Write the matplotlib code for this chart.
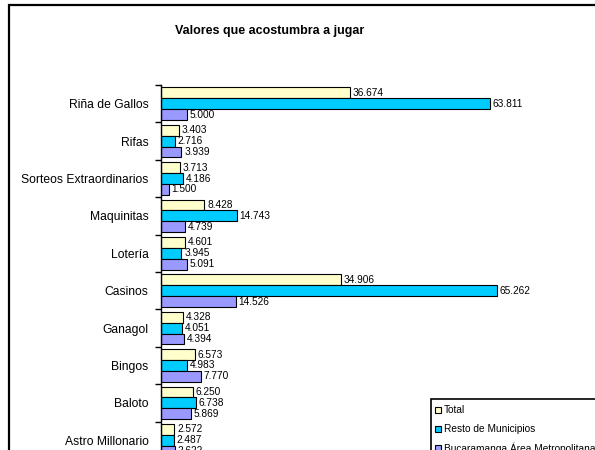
import matplotlib
matplotlib.use("Agg")
import matplotlib.pyplot as plt
from matplotlib.patches import Rectangle
import numpy as np

categories = ["Riña de Gallos", "Rifas", "Sorteos Extraordinarios", "Maquinitas", "Lotería",
              "Casinos", "Ganagol", "Bingos", "Baloto", "Astro Millonario"]
total = [36.674, 3.403, 3.713, 8.428, 4.601, 34.906, 4.328, 6.573, 6.250, 2.572]
resto = [63.811, 2.716, 4.186, 14.743, 3.945, 65.262, 4.051, 4.983, 6.738, 2.487]
bucaramanga = [5.000, 3.939, 1.500, 4.739, 5.091, 14.526, 4.394, 7.770, 5.869, 2.622]
series_names = ["Total", "Resto de Municipios", "Bucaramanga Área Metropolitana"]
colors = ["#FFFFCC", "#00CCFF", "#9999FF"]
title = "Valores que acostumbra a jugar"

plt.rcParams['font.family'] = ['Liberation Sans', 'DejaVu Sans']

W, H = 595, 450
fig = plt.figure(figsize=(W / 100, H / 100), dpi=100)

def fx(px):
    return px / W

def fy(py):
    return 1 - py / H

# outer chart border (extends past the cropped figure)
fig.patches.append(Rectangle((fx(9), fy(470)), fx(620) - fx(9), fy(5) - fy(470),
                             transform=fig.transFigure, fill=False, edgecolor="black",
                             linewidth=1.6, zorder=0))

ax_left, ax_top = 161, 85
group_px = 37.4
n = len(categories)
ax_right = 560
scale = 5.15  # px per unit
ax = fig.add_axes([fx(ax_left), fy(ax_top + n * group_px), fx(ax_right - ax_left),
                   (n * group_px) / H])
ax.set_xlim(0, (ax_right - ax_left) / scale)
ax.set_ylim(n - 0.5, -0.5)

y = np.arange(n)
h = 0.29
for k, (vals, col) in enumerate(zip([total, resto, bucaramanga], colors)):
    pos = y + (k - 1) * h
    ax.barh(pos, vals, height=h, color=col, edgecolor="black", linewidth=0.8)
    for p, v in zip(pos, vals):
        ax.annotate(f"{v:.3f}", (v, p), xytext=(2, 0), textcoords="offset points",
                    va="center", ha="left", fontsize=7.3)

for s in ["top", "right", "bottom"]:
    ax.spines[s].set_visible(False)
ax.spines["left"].set_linewidth(1.0)
ax.set_xticks([])
ax.set_yticks(y)
ax.set_yticklabels(categories, fontsize=8.7)
ax.tick_params(axis="y", which="major", length=0, pad=9)
ax.set_yticks(np.arange(-0.5, n + 0.5, 1), minor=True)
ax.tick_params(axis="y", which="minor", length=4, width=1.0, direction="out")

fig.text(fx(270), fy(31), title, ha="center", va="center", fontsize=9, fontweight="bold")

# legend
lx, ly = 431, 399
fig.patches.append(Rectangle((fx(lx), fy(470)), fx(620) - fx(lx), fy(ly) - fy(470),
                             transform=fig.transFigure, facecolor="white", edgecolor="black",
                             linewidth=1.2, zorder=5))
for i, (name, col) in enumerate(zip(series_names, colors)):
    yy = 410 + i * 19
    fig.patches.append(Rectangle((fx(435), fy(yy + 3)), fx(6), 6 / H,
                                 transform=fig.transFigure, facecolor=col,
                                 edgecolor="black", linewidth=0.8, zorder=6))
    fig.text(fx(444), fy(yy), name, ha="left", va="center", fontsize=7.3, zorder=7)

fig.savefig("out.png", dpi=100)
